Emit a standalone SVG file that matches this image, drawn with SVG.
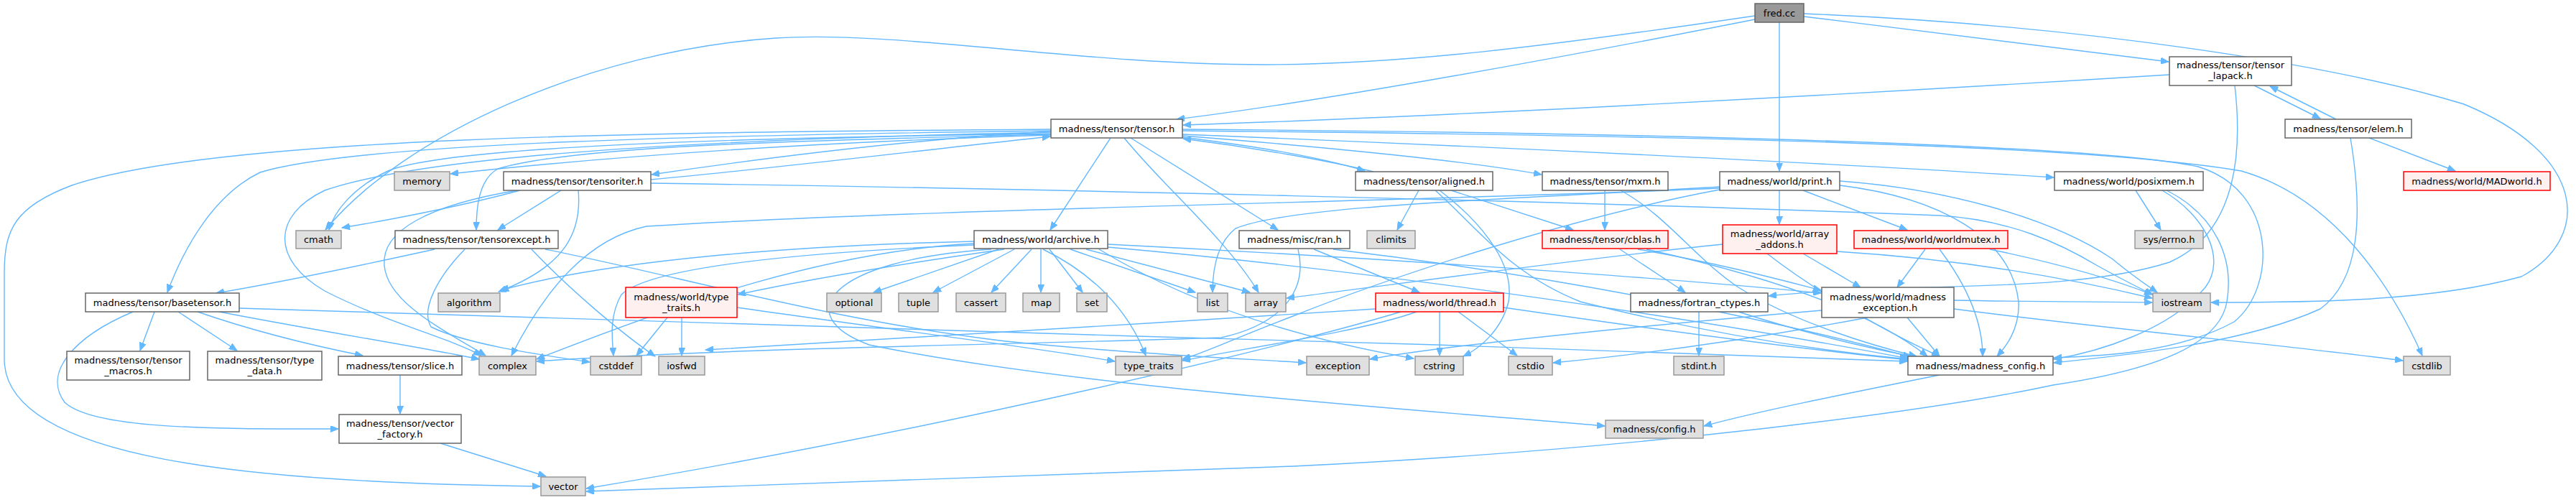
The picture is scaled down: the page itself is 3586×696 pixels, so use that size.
<svg xmlns="http://www.w3.org/2000/svg" width="3586" height="696" viewBox="0 0 3586 696">
<style>
.w rect{fill:#fff;stroke:#666;stroke-width:1.5}
.g rect{fill:#e0e0e0;stroke:#999;stroke-width:1.5}
.r rect{fill:#fff0f0;stroke:#ff0000;stroke-width:1.5}
.f rect{fill:#999;stroke:#666;stroke-width:1.5}
text{font-family:"DejaVu Sans",sans-serif;font-size:13px;text-anchor:middle;fill:#000}
#edges path{fill:none;stroke:#63b8ff;stroke-width:1.4;marker-end:url(#a)}
</style>
<defs>
<marker id="a" markerWidth="12" markerHeight="9" refX="11" refY="4.5" orient="auto" markerUnits="userSpaceOnUse"><path d="M0,0 L11,4.5 L0,9 z" fill="#63b8ff" stroke="#63b8ff"/></marker>
</defs>
<rect width="3586" height="696" fill="#fff"/>
<g id="edges">
<path d="M2443,27 C2200,75 1850,140 1638,166"/>
<path d="M2443,22 C2150,65 1950,90 1760,90 C1500,90 1250,42 1080,53 C820,70 560,190 453,320"/>
<path d="M2511,23 C2700,46 2900,71 3019,86"/>
<path d="M2511,19 C2900,35 3250,90 3430,145 C3600,215 3610,330 3510,385 C3380,421 3200,421 3078,421"/>
<path d="M2477,31 L2477,238"/>
<path d="M3020,104 C2600,130 2000,163 1647,174"/>
<path d="M3138,119 L3230,165"/>
<path d="M3252,166 L3160,120"/>
<path d="M3111,119 C3125,240 3100,330 3020,365 C2880,410 2650,392 2462,412"/>
<path d="M3298,192 L3418,238"/>
<path d="M3272,192 C3290,300 3285,390 3230,430 C3120,480 2950,495 2859,505"/>
<path d="M1463,188 C1200,196 900,212 627,242"/>
<path d="M1463,183 C1250,195 1050,222 907,243"/>
<path d="M906,250 C1100,232 1300,207 1462,190"/>
<path d="M1463,186 C1000,192 620,205 540,238 C490,262 465,295 458,320"/>
<path d="M1463,180 C900,184 300,190 100,258 C20,288 6,320 6,380 L6,500 C6,640 350,672 752,677"/>
<path d="M1463,182 C1000,188 500,198 362,240 C300,270 258,340 233,407"/>
<path d="M1463,184 C1000,194 600,214 452,265 C378,300 378,362 452,405 C540,450 625,470 670,495"/>
<path d="M1463,187 C1100,196 800,203 693,235 C666,250 663,290 663,320"/>
<path d="M1546,192 L1462,320"/>
<path d="M1574,192 L1779,320"/>
<path d="M1565,192 C1620,260 1705,330 1752,407"/>
<path d="M1646,187 C2100,205 2600,230 2859,247"/>
<path d="M1646,189 C1850,205 2050,225 2146,243"/>
<path d="M1646,191 C1760,205 1850,222 1900,238"/>
<path d="M1912,239 C1850,224 1750,206 1647,193"/>
<path d="M1646,180 C2200,184 2900,198 3060,232 C3170,265 3170,400 3110,448 C3030,492 2920,496 2859,498"/>
<path d="M1646,182 C2300,188 2900,200 3120,238 C3250,275 3330,400 3372,495"/>
<path d="M724,265 C650,285 550,305 476,317"/>
<path d="M781,265 L693,320"/>
<path d="M805,265 C810,320 790,370 694,406"/>
<path d="M720,265 C600,285 530,320 535,370 C540,420 610,455 676,495"/>
<path d="M906,255 C1400,262 2200,280 2700,300 C2800,306 2870,340 2920,370 C2960,392 2980,402 2997,410"/>
<path d="M605,347 C500,370 390,393 301,408"/>
<path d="M647,347 C610,385 585,430 600,455 C650,480 760,495 821,504"/>
<path d="M759,347 C950,385 1150,445 1400,475 C1600,495 1750,500 1818,505"/>
<path d="M740,347 C790,400 860,460 912,496"/>
<path d="M1390,347 L1216,407"/>
<path d="M1412,347 L1299,407"/>
<path d="M1436,347 L1380,407"/>
<path d="M1449,347 L1449,407"/>
<path d="M1461,347 L1507,407"/>
<path d="M1490,347 L1664,407"/>
<path d="M1512,347 L1740,407"/>
<path d="M1452,347 C1520,380 1570,430 1595,495"/>
<path d="M1398,347 C1250,368 1110,392 1027,410"/>
<path d="M1356,336 C1100,342 850,362 697,404"/>
<path d="M1356,339 C1150,350 950,420 747,500"/>
<path d="M1356,341 C1100,352 905,372 865,410 C848,440 852,470 854,495"/>
<path d="M1380,347 C1150,362 1100,440 1210,480 C1500,540 2000,572 2234,593"/>
<path d="M1542,340 C1900,358 2300,385 2535,408"/>
<path d="M1542,344 C1950,380 2400,450 2656,499"/>
<path d="M1530,347 C1650,420 1800,470 1968,499"/>
<path d="M1829,347 L1976,407"/>
<path d="M1856,347 C2150,382 2450,440 2660,497"/>
<path d="M1807,347 C1820,400 1790,450 1700,470 C1400,480 1000,485 747,503"/>
<path d="M2255,347 L2346,407"/>
<path d="M2292,347 C2450,382 2600,430 2683,496"/>
<path d="M2280,347 C2400,368 2480,390 2535,404"/>
<path d="M2234,265 L2234,320"/>
<path d="M2256,265 C2320,300 2360,360 2420,400 C2500,450 2610,482 2668,496"/>
<path d="M1975,265 L1945,320"/>
<path d="M2020,265 L2190,320"/>
<path d="M1998,265 C2060,320 2100,380 2200,420 C2400,470 2550,490 2656,500"/>
<path d="M2004,265 C2050,300 2110,360 2100,420 C2090,460 2060,485 2037,496"/>
<path d="M2477,265 L2477,312"/>
<path d="M2510,265 L2655,320"/>
<path d="M2394,260 C2100,278 1800,285 1720,318 C1692,340 1688,380 1688,407"/>
<path d="M2394,264 C2200,300 1950,380 1800,440 C1720,470 1680,490 1646,500"/>
<path d="M2561,252 C2700,262 2850,300 2940,360 C2970,385 2990,398 3003,407"/>
<path d="M2561,258 C2700,275 2800,330 2810,420 C2812,460 2790,485 2780,496"/>
<path d="M2394,262 C2000,280 1300,290 900,315 C820,332 760,400 712,495"/>
<path d="M2510,353 L2590,400"/>
<path d="M2398,340 C2200,360 1950,395 1791,415"/>
<path d="M2557,350 C2750,362 2900,392 2996,415"/>
<path d="M2460,353 C2520,400 2620,460 2700,496"/>
<path d="M2680,347 L2641,400"/>
<path d="M2770,347 C2880,370 2950,392 2996,410"/>
<path d="M2700,347 C2740,400 2760,450 2760,496"/>
<path d="M2973,265 L3008,320"/>
<path d="M3010,265 C3070,300 3100,360 3070,400 C3020,460 2920,490 2859,500"/>
<path d="M3016,265 C3085,300 3110,360 3100,420 C3090,480 3000,515 2858,536 C2700,570 2300,625 1800,649 C1400,665 1000,680 816,684"/>
<path d="M2655,442 L2700,496"/>
<path d="M2720,430 C2950,460 3200,482 3345,502"/>
<path d="M2536,432 C2300,452 2000,482 1907,500"/>
<path d="M2720,418 C2820,420 2920,420 2996,421"/>
<path d="M2600,442 C2450,470 2300,492 2162,505"/>
<path d="M2365,434 L2365,495"/>
<path d="M2420,434 C2500,460 2600,485 2668,497"/>
<path d="M2004,434 L2004,495"/>
<path d="M2030,434 L2112,495"/>
<path d="M1972,434 C1900,460 1750,482 1646,502"/>
<path d="M1950,434 C1800,480 1300,600 816,680"/>
<path d="M2093,428 C2300,458 2500,485 2656,501"/>
<path d="M1915,430 C1600,450 1200,475 982,487"/>
<path d="M2700,522 C2560,550 2450,572 2372,593"/>
<path d="M215,434 L195,488"/>
<path d="M248,434 L330,488"/>
<path d="M275,434 C350,460 430,480 505,495"/>
<path d="M305,434 C450,462 580,482 667,500"/>
<path d="M185,434 C100,470 60,520 90,560 C130,598 300,597 471,597"/>
<path d="M333,429 C700,445 1400,462 2000,480 C2300,490 2500,497 2655,503"/>
<path d="M557,522 L557,576"/>
<path d="M613,617 L760,663"/>
<path d="M949,442 L949,495"/>
<path d="M929,442 L886,495"/>
<path d="M1026,428 C1250,460 1450,485 1552,503"/>
</g>
<g id="fred" class="f"><rect x="2443" y="5" width="68" height="26"/><text x="2477" y="22.5">fred.cc</text></g>
<g id="tensor_lapack" class="w"><rect x="3020" y="79" width="170" height="40"/><text x="3105" y="94.5">madness/tensor/tensor</text><text x="3105" y="109.5">_lapack.h</text></g>
<g id="tensor" class="w"><rect x="1463" y="166" width="183" height="26"/><text x="1554.5" y="183.5">madness/tensor/tensor.h</text></g>
<g id="elem" class="w"><rect x="3181" y="166" width="176" height="26"/><text x="3269" y="183.5">madness/tensor/elem.h</text></g>
<g id="memory" class="g"><rect x="549" y="239" width="77" height="26"/><text x="587.5" y="256.5">memory</text></g>
<g id="tensoriter" class="w"><rect x="701" y="239" width="205" height="26"/><text x="803.5" y="256.5">madness/tensor/tensoriter.h</text></g>
<g id="aligned" class="w"><rect x="1887" y="239" width="191" height="26"/><text x="1982.5" y="256.5">madness/tensor/aligned.h</text></g>
<g id="mxm" class="w"><rect x="2147" y="239" width="175" height="26"/><text x="2234.5" y="256.5">madness/tensor/mxm.h</text></g>
<g id="print" class="w"><rect x="2394" y="239" width="167" height="26"/><text x="2477.5" y="256.5">madness/world/print.h</text></g>
<g id="posixmem" class="w"><rect x="2860" y="239" width="207" height="26"/><text x="2963.5" y="256.5">madness/world/posixmem.h</text></g>
<g id="madworld" class="r"><rect x="3346" y="239" width="204" height="26"/><text x="3448" y="256.5">madness/world/MADworld.h</text></g>
<g id="cmath" class="g"><rect x="412" y="321" width="63" height="25"/><text x="443.5" y="338">cmath</text></g>
<g id="tensorexcept" class="w"><rect x="550" y="321" width="227" height="25"/><text x="663.5" y="338">madness/tensor/tensorexcept.h</text></g>
<g id="archive" class="w"><rect x="1356" y="321" width="186" height="25"/><text x="1449" y="338">madness/world/archive.h</text></g>
<g id="ran" class="w"><rect x="1725" y="321" width="154" height="25"/><text x="1802" y="338">madness/misc/ran.h</text></g>
<g id="climits" class="g"><rect x="1903" y="321" width="67" height="25"/><text x="1936.5" y="338">climits</text></g>
<g id="cblas" class="r"><rect x="2147" y="321" width="175" height="25"/><text x="2234.5" y="338">madness/tensor/cblas.h</text></g>
<g id="array_addons" class="r"><rect x="2398" y="313" width="159" height="40"/><text x="2477.5" y="329.5">madness/world/array</text><text x="2477.5" y="344.5">_addons.h</text></g>
<g id="worldmutex" class="r"><rect x="2581" y="321" width="214" height="25"/><text x="2688" y="338">madness/world/worldmutex.h</text></g>
<g id="errno" class="g"><rect x="2972" y="321" width="95" height="25"/><text x="3019.5" y="338">sys/errno.h</text></g>
<g id="basetensor" class="w"><rect x="119" y="408" width="214" height="26"/><text x="226" y="425.5">madness/tensor/basetensor.h</text></g>
<g id="algorithm" class="g"><rect x="610" y="408" width="86" height="26"/><text x="653" y="425.5">algorithm</text></g>
<g id="wtype_traits" class="r"><rect x="871" y="400" width="155" height="42"/><text x="948.5" y="417.5">madness/world/type</text><text x="948.5" y="432.5">_traits.h</text></g>
<g id="optional" class="g"><rect x="1151" y="408" width="76" height="26"/><text x="1189" y="425.5">optional</text></g>
<g id="tuple" class="g"><rect x="1251" y="408" width="55" height="26"/><text x="1278.5" y="425.5">tuple</text></g>
<g id="cassert" class="g"><rect x="1331" y="408" width="69" height="26"/><text x="1365.5" y="425.5">cassert</text></g>
<g id="map" class="g"><rect x="1424" y="408" width="51" height="26"/><text x="1449.5" y="425.5">map</text></g>
<g id="set" class="g"><rect x="1499" y="408" width="42" height="26"/><text x="1520" y="425.5">set</text></g>
<g id="list" class="g"><rect x="1667" y="408" width="42" height="26"/><text x="1688" y="425.5">list</text></g>
<g id="array" class="g"><rect x="1734" y="408" width="56" height="26"/><text x="1762" y="425.5">array</text></g>
<g id="thread" class="r"><rect x="1915" y="408" width="178" height="26"/><text x="2004" y="425.5">madness/world/thread.h</text></g>
<g id="fortran" class="w"><rect x="2270" y="408" width="191" height="26"/><text x="2365.5" y="425.5">madness/fortran_ctypes.h</text></g>
<g id="mexception" class="w"><rect x="2536" y="400" width="184" height="42"/><text x="2628" y="417.5">madness/world/madness</text><text x="2628" y="432.5">_exception.h</text></g>
<g id="iostream" class="g"><rect x="2997" y="408" width="80" height="26"/><text x="3037" y="425.5">iostream</text></g>
<g id="tensor_macros" class="w"><rect x="93" y="489" width="171" height="40"/><text x="178.5" y="505.5">madness/tensor/tensor</text><text x="178.5" y="520.5">_macros.h</text></g>
<g id="type_data" class="w"><rect x="289" y="489" width="159" height="40"/><text x="368.5" y="505.5">madness/tensor/type</text><text x="368.5" y="520.5">_data.h</text></g>
<g id="slice" class="w"><rect x="471" y="496" width="172" height="26"/><text x="557" y="513.5">madness/tensor/slice.h</text></g>
<g id="complex" class="g"><rect x="667" y="496" width="79" height="26"/><text x="706.5" y="513.5">complex</text></g>
<g id="cstddef" class="g"><rect x="822" y="496" width="71" height="26"/><text x="857.5" y="513.5">cstddef</text></g>
<g id="iosfwd" class="g"><rect x="917" y="496" width="64" height="26"/><text x="949" y="513.5">iosfwd</text></g>
<g id="type_traits" class="g"><rect x="1553" y="496" width="92" height="26"/><text x="1599" y="513.5">type_traits</text></g>
<g id="exception" class="g"><rect x="1819" y="496" width="87" height="26"/><text x="1862.5" y="513.5">exception</text></g>
<g id="cstring" class="g"><rect x="1970" y="496" width="67" height="26"/><text x="2003.5" y="513.5">cstring</text></g>
<g id="cstdio" class="g"><rect x="2100" y="496" width="61" height="26"/><text x="2130.5" y="513.5">cstdio</text></g>
<g id="stdint" class="g"><rect x="2330" y="496" width="70" height="26"/><text x="2365" y="513.5">stdint.h</text></g>
<g id="madness_config" class="w"><rect x="2656" y="496" width="202" height="26"/><text x="2757" y="513.5">madness/madness_config.h</text></g>
<g id="cstdlib" class="g"><rect x="3346" y="496" width="65" height="26"/><text x="3378.5" y="513.5">cstdlib</text></g>
<g id="vector_factory" class="w"><rect x="472" y="577" width="170" height="40"/><text x="557" y="593.5">madness/tensor/vector</text><text x="557" y="608.5">_factory.h</text></g>
<g id="config" class="g"><rect x="2235" y="585" width="136" height="25"/><text x="2303" y="602">madness/config.h</text></g>
<g id="vector" class="g"><rect x="753" y="664" width="62" height="26"/><text x="784" y="681.5">vector</text></g>
</svg>
